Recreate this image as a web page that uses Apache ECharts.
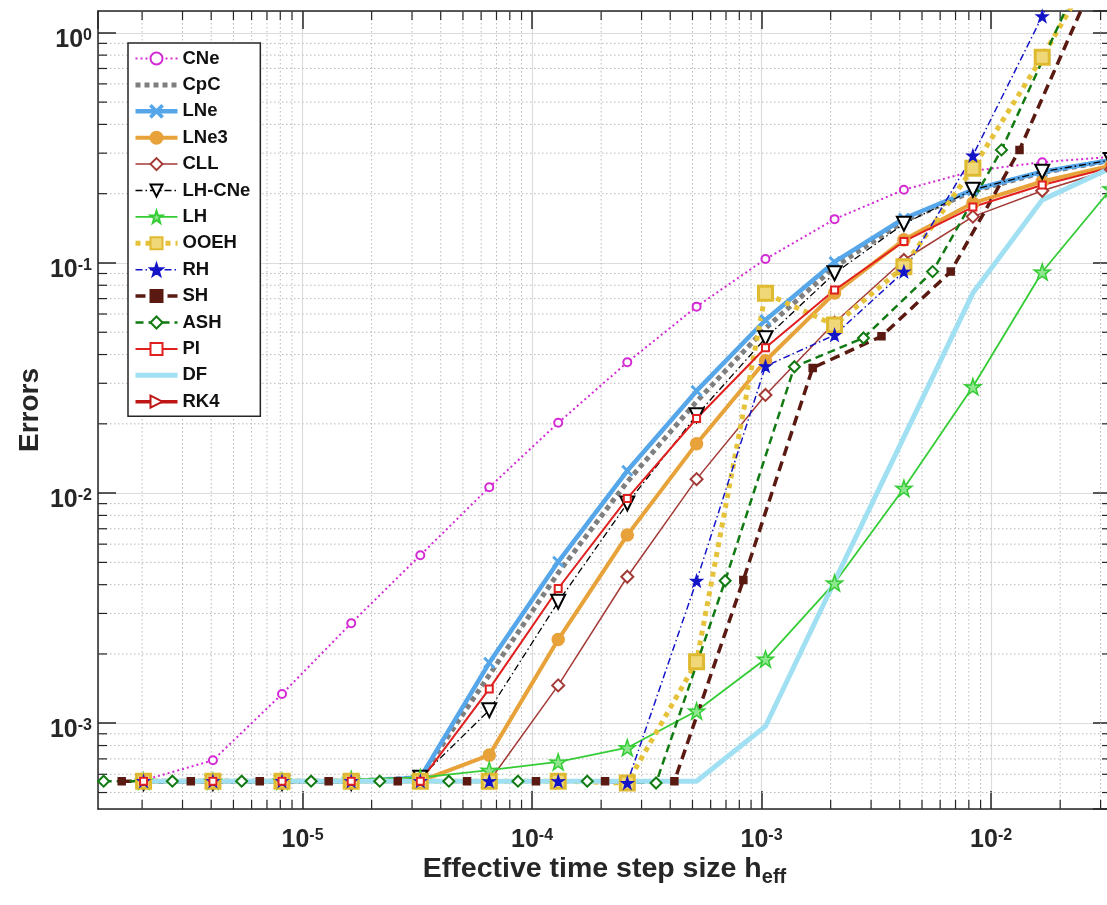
<!DOCTYPE html>
<html>
<head>
<meta charset="utf-8">
<script src="https://cdn.jsdelivr.net/npm/echarts@6/dist/echarts.min.js"></script>
<style>
  html, body { margin: 0; padding: 0; background: #fff; }
  #chart { width: 1107px; height: 905px; }
</style>
</head>
<body>
<div id="chart"></div>
<script>
// effective step sizes (three families of h_eff)
var hA   = [2.03e-6, 4.07e-6, 8.14e-6, 1.63e-5, 3.26e-5, 6.51e-5, 1.30e-4, 2.60e-4, 5.21e-4, 1.04e-3, 2.08e-3, 4.17e-3, 8.33e-3, 1.67e-2, 3.33e-2];
var hSH  = [1.63e-6, 3.26e-6, 6.51e-6, 1.30e-5, 2.60e-5, 5.21e-5, 1.04e-4, 2.08e-4, 4.17e-4, 8.33e-4, 1.67e-3, 3.33e-3, 6.67e-3, 1.33e-2, 2.67e-2];
var hASH = [1.36e-6, 2.71e-6, 5.43e-6, 1.09e-5, 2.17e-5, 4.34e-5, 8.68e-5, 1.74e-4, 3.47e-4, 6.94e-4, 1.39e-3, 2.78e-3, 5.56e-3, 1.11e-2, 2.22e-2];

// errors
var errCNe   = [5.65e-4, 6.9e-4, 1.34e-3, 2.72e-3, 5.37e-3, 1.06e-2, 2.02e-2, 3.70e-2, 6.46e-2, 0.104, 0.155, 0.208, 0.251, 0.274, 0.289];
var errCpC   = [5.6e-4, 5.6e-4, 5.6e-4, 5.6e-4, 5.8e-4, 1.62e-3, 4.5e-3, 1.12e-2, 2.5e-2, 5.2e-2, 9.6e-2, 0.152, 0.205, 0.247, 0.279];
var errLNe   = [5.6e-4, 5.6e-4, 5.6e-4, 5.6e-4, 5.8e-4, 1.83e-3, 5.03e-3, 1.25e-2, 2.78e-2, 5.65e-2, 0.101, 0.156, 0.208, 0.249, 0.28];
var errLNe3  = [5.6e-4, 5.6e-4, 5.6e-4, 5.6e-4, 5.6e-4, 7.27e-4, 2.31e-3, 6.57e-3, 1.64e-2, 3.76e-2, 7.4e-2, 0.126, 0.182, 0.226, 0.265];
var errCLL   = [5.6e-4, 5.6e-4, 5.6e-4, 5.6e-4, 5.6e-4, 5.6e-4, 1.46e-3, 4.33e-3, 1.15e-2, 2.67e-2, 5.5e-2, 0.103, 0.159, 0.206, 0.255];
var errLHCNe = [5.5e-4, 5.5e-4, 5.5e-4, 5.5e-4, 5.8e-4, 1.14e-3, 3.37e-3, 9.02e-3, 2.18e-2, 4.71e-2, 9.02e-2, 0.148, 0.208, 0.249, 0.28];
var errLH    = [5.6e-4, 5.6e-4, 5.6e-4, 5.7e-4, 5.8e-4, 6.25e-4, 6.79e-4, 7.83e-4, 1.13e-3, 1.9e-3, 4.07e-3, 1.05e-2, 2.9e-2, 9.14e-2, 0.21];
var errOOEH  = [5.6e-4, 5.6e-4, 5.6e-4, 5.6e-4, 5.6e-4, 5.6e-4, 5.6e-4, 5.5e-4, 1.85e-3, 7.38e-2, 5.37e-2, 9.64e-2, 0.258, 0.784, 2.57];
var errRH    = [5.6e-4, 5.6e-4, 5.6e-4, 5.6e-4, 5.6e-4, 5.6e-4, 5.6e-4, 5.5e-4, 4.16e-3, 3.56e-2, 4.86e-2, 9.17e-2, 0.293, 1.18, 4.6];
var errSH    = [5.6e-4, 5.6e-4, 5.6e-4, 5.6e-4, 5.6e-4, 5.6e-4, 5.6e-4, 5.6e-4, 5.6e-4, 4.19e-3, 3.5e-2, 4.8e-2, 9.17e-2, 0.31, 1.5];
var errASH   = [5.6e-4, 5.6e-4, 5.6e-4, 5.6e-4, 5.6e-4, 5.6e-4, 5.6e-4, 5.6e-4, 5.5e-4, 4.16e-3, 3.54e-2, 4.72e-2, 9.17e-2, 0.31, 1.4];
var errPI    = [5.6e-4, 5.6e-4, 5.6e-4, 5.6e-4, 5.6e-4, 1.41e-3, 3.85e-3, 9.48e-3, 2.11e-2, 4.28e-2, 7.63e-2, 0.124, 0.175, 0.218, 0.26];
var errDF    = [5.6e-4, 5.6e-4, 5.6e-4, 5.6e-4, 5.6e-4, 5.6e-4, 5.6e-4, 5.6e-4, 5.6e-4, 9.7e-4, 4.14e-3, 1.75e-2, 7.4e-2, 0.188, 0.259];
var errRK4   = [];

var FONT = "'Liberation Sans', Arial, Helvetica, sans-serif";
var AXIS = '#262626';
var xMin = 1.285e-6, xMax = 3.33e-2;
var yMin = 4.24e-4, yMax = 1.244;

var STAR = 'path://M50,0 L61.8,35.1 L97.6,34.5 L68.8,56.1 L79.4,90.5 L50,70 L20.6,90.5 L31.2,56.1 L2.4,34.5 L38.2,35.1 Z';
var CROSS = 'path://M0,1 L1,0 L5,4 L9,0 L10,1 L6,5 L10,9 L9,10 L5,6 L1,10 L0,9 L4,5 Z';

function pairs(xs, ys) {
  var out = [];
  for (var i = 0; i < ys.length; i++) out.push([xs[i], ys[i]]);
  return out;
}

function line(name, xs, ys, color, width, dash, symbol, size, extra) {
  var s = {
    name: name,
    type: 'line',
    data: pairs(xs, ys),
    symbol: symbol,
    symbolSize: size,
    showSymbol: symbol !== 'none',
    lineStyle: { color: color, width: width, type: dash },
    itemStyle: { color: color, borderColor: color, borderWidth: 1.5 },
    emphasis: { disabled: true },
    clip: true
  };
  if (extra) {
    for (var k in extra) s[k] = extra[k];
  }
  return s;
}

var lines = [
  line('CNe', hA, errCNe, '#d42ad4', 2, [2, 3], 'emptyCircle', 8),
  line('CpC', hA, errCpC, '#7f7f7f', 5, [5, 4], 'none', 0),
  line('LNe', hA, errLNe, '#56a6ea', 4.5, 'solid', CROSS, 10),
  line('LNe3', hA, errLNe3, '#e8a23a', 4, 'solid', 'circle', 12),
  line('CLL', hA, errCLL, '#a33a36', 1.5, 'solid', 'emptyDiamond', 12),
  line('LH-CNe', hA, errLHCNe, '#000000', 1.3, [7, 3, 1.5, 3], 'emptyTriangle', 14, { symbolRotate: 180 }),
  line('LH', hA, errLH, '#35cc35', 1.8, 'solid', STAR, 16, {
    itemStyle: { color: '#8ee68e', borderColor: '#35cc35', borderWidth: 1.5 }
  }),
  line('OOEH', hA, errOOEH, '#e6c23a', 5, [5, 5], 'rect', 14, {
    itemStyle: { color: '#f0d878', borderColor: '#dfba30', borderWidth: 3 }
  }),
  line('RH', hA, errRH, '#1515c8', 1.5, [7, 3, 1.5, 3], STAR, 11),
  line('SH', hSH, errSH, '#5a1a12', 3.5, [10, 6], 'rect', 7),
  line('ASH', hASH, errASH, '#127a12', 2.5, [8, 5], 'emptyDiamond', 11, {
    itemStyle: { color: '#127a12', borderColor: '#127a12', borderWidth: 2 }
  }),
  line('PI', hA, errPI, '#e01f1f', 2, 'solid', 'emptyRect', 7),
  line('DF', hA, errDF, '#a0e0f2', 5, 'solid', 'none', 0),
  line('RK4', hA, errRK4, '#c01515', 3.5, 'solid', 'emptyTriangle', 16, { symbolRotate: -90 })
];

// legend entries keep the series line width (legend would default to 2)
var legendData = lines.map(function (s) {
  var item = { name: s.name, lineStyle: { width: s.lineStyle.width } };
  if (s.symbol === 'none') item.itemStyle = { opacity: 0 };
  return item;
});

// minor log gridlines and ticks (2..9 x 10^k)
var minorX = [], minorY = [];
for (var e = -6; e <= -2; e++) {
  for (var m = 2; m <= 9; m++) {
    var v = m * Math.pow(10, e);
    if (v > xMin && v < xMax) minorX.push([v, 1e-2]);
  }
}
for (var e2 = -4; e2 <= 0; e2++) {
  for (var m2 = 2; m2 <= 9; m2++) {
    var w = m2 * Math.pow(10, e2);
    if (w > yMin && w < yMax) minorY.push([1e-4, w]);
  }
}

function minorGrid(dir) {
  return function (params, api) {
    var cs = params.coordSys;
    var p = api.coord([api.value(0), api.value(1)]);
    var dot = { stroke: '#b9b9b9', lineWidth: 1, lineDash: [1.5, 2.5] };
    var tick = { stroke: AXIS, lineWidth: 1.2 };
    var kids;
    if (dir === 'x') {
      var x = p[0], t = cs.y, b = cs.y + cs.height;
      kids = [
        { type: 'line', shape: { x1: x, y1: t, x2: x, y2: b }, style: dot },
        { type: 'line', shape: { x1: x, y1: b, x2: x, y2: b - 9 }, style: tick },
        { type: 'line', shape: { x1: x, y1: t, x2: x, y2: t + 9 }, style: tick }
      ];
    } else {
      var y = p[1], l = cs.x, r = cs.x + cs.width;
      kids = [
        { type: 'line', shape: { x1: l, y1: y, x2: r, y2: y }, style: dot },
        { type: 'line', shape: { x1: l, y1: y, x2: l + 9, y2: y }, style: tick },
        { type: 'line', shape: { x1: r, y1: y, x2: r - 9, y2: y }, style: tick }
      ];
    }
    return { type: 'group', silent: true, children: kids };
  };
}

function powLabel(v) {
  var ex = Math.round(Math.log(v) / Math.LN10);
  return '{b|10}{s|' + ex + '}';
}
var tickRich = {
  b: { fontFamily: FONT, fontWeight: 'bold', fontSize: 25, color: AXIS, verticalAlign: 'bottom' },
  s: { fontFamily: FONT, fontWeight: 'bold', fontSize: 16, color: AXIS, verticalAlign: 'top' }
};

var chart = echarts.init(document.getElementById('chart'));

var option = {
  animation: false,
  backgroundColor: '#fff',
  grid: { left: 98, top: 11, right: -4, bottom: 96, containLabel: false, outerBoundsMode: 'none' },
  legend: {
    orient: 'vertical',
    left: 128,
    top: 43,
    data: legendData,
    itemWidth: 42,
    itemHeight: 15,
    itemGap: 7.4,
    padding: [6, 10, 5, 5],
    backgroundColor: '#fff',
    borderColor: AXIS,
    borderWidth: 1.5,
    borderRadius: 0,
    selectedMode: false,
    textStyle: { fontFamily: FONT, fontWeight: 'bold', fontSize: 18.5, lineHeight: 18, color: '#111' }
  },
  xAxis: [
    {
      type: 'log', logBase: 10, min: xMin, max: xMax,
      name: '{t|Effective time step size h}{u|eff}',
      nameLocation: 'middle', nameGap: 46, nameMoveOverlap: false,
      nameTextStyle: {
        rich: {
          t: { fontFamily: FONT, fontWeight: 'bold', fontSize: 28.5, color: AXIS, verticalAlign: 'top', lineHeight: 32 },
          u: { fontFamily: FONT, fontWeight: 'bold', fontSize: 20, color: AXIS, verticalAlign: 'bottom', lineHeight: 22, padding: [30, 0, 0, 0] }
        }
      },
      axisLine: { lineStyle: { color: AXIS, width: 1.5 } },
      axisTick: { inside: true, length: 18, lineStyle: { color: AXIS, width: 1.5 } },
      axisLabel: { formatter: powLabel, rich: tickRich, margin: 19, showMinLabel: false, showMaxLabel: false },
      splitLine: { show: true, lineStyle: { color: '#dcdcdc', width: 1.2 } },
      minorTick: { show: false }
    },
    {
      type: 'log', logBase: 10, min: xMin, max: xMax, position: 'top',
      axisLine: { lineStyle: { color: AXIS, width: 1.5 } },
      axisTick: { inside: true, length: 18, lineStyle: { color: AXIS, width: 1.5 } },
      axisLabel: { show: false },
      splitLine: { show: false }
    }
  ],
  yAxis: [
    {
      type: 'log', logBase: 10, min: yMin, max: yMax,
      name: 'Errors', nameLocation: 'middle', nameGap: 54, nameMoveOverlap: false,
      nameTextStyle: { fontFamily: FONT, fontWeight: 'bold', fontSize: 28, color: AXIS },
      axisLine: { lineStyle: { color: AXIS, width: 1.5 } },
      axisTick: { inside: true, length: 18, lineStyle: { color: AXIS, width: 1.5 } },
      axisLabel: { formatter: powLabel, rich: tickRich, margin: 6, padding: [14, 0, 0, 0], showMinLabel: false, showMaxLabel: false },
      splitLine: { show: true, lineStyle: { color: '#dcdcdc', width: 1.2 } }
    },
    {
      type: 'log', logBase: 10, min: yMin, max: yMax, position: 'right',
      axisLine: { lineStyle: { color: AXIS, width: 1.5 } },
      axisTick: { inside: true, length: 18, lineStyle: { color: AXIS, width: 1.5 } },
      axisLabel: { show: false },
      splitLine: { show: false }
    }
  ],
  series: [
    { type: 'custom', renderItem: minorGrid('x'), data: minorX, z: 1, silent: true, clip: false },
    { type: 'custom', renderItem: minorGrid('y'), data: minorY, z: 1, silent: true, clip: false }
  ].concat(lines)
};

chart.setOption(option);
</script>
</body>
</html>
